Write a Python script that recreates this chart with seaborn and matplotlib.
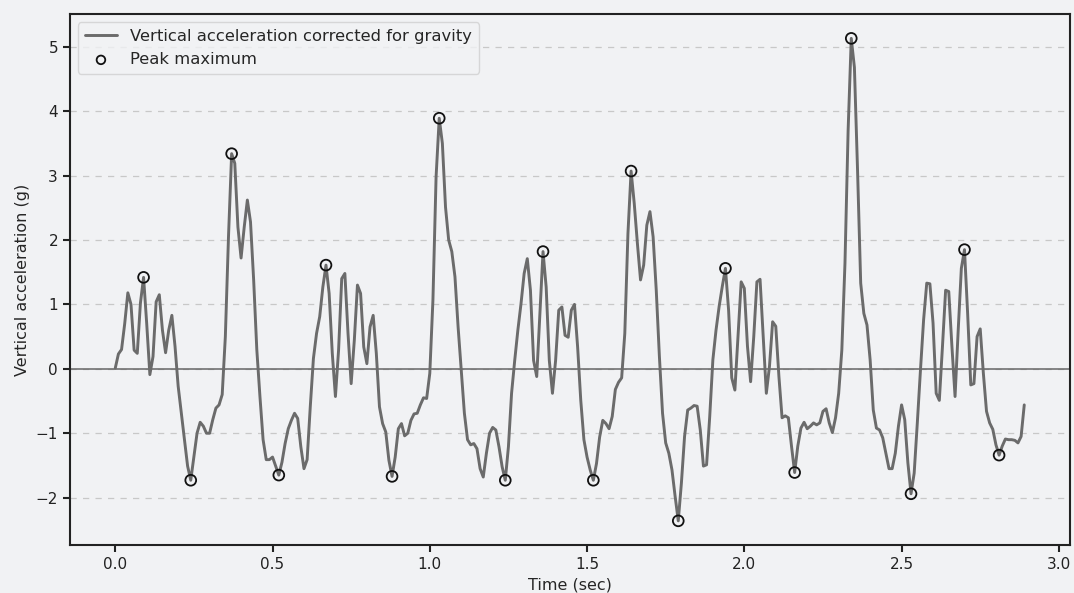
import numpy as np
import pandas as pd
import matplotlib
matplotlib.use("Agg")
import matplotlib.pyplot as plt
import seaborn as sns

time_sec = np.round(np.arange(290) * 0.01, 2)
accel_g = [
    0.01, 0.23, 0.30, 0.70, 1.18, 1.00, 0.29, 0.24, 1.02, 1.42,
    0.70, -0.09, 0.19, 1.04, 1.15, 0.60, 0.25, 0.60, 0.83, 0.35,
    -0.27, -0.69, -1.10, -1.51, -1.73, -1.36, -1.00, -0.83, -0.89, -1.00,
    -1.00, -0.79, -0.61, -0.56, -0.40, 0.50, 2.05, 3.34, 3.19, 2.20,
    1.72, 2.20, 2.62, 2.28, 1.38, 0.30, -0.43, -1.10, -1.41, -1.41,
    -1.37, -1.51, -1.65, -1.45, -1.16, -0.93, -0.80, -0.69, -0.77, -1.21,
    -1.55, -1.41, -0.59, 0.16, 0.55, 0.81, 1.27, 1.61, 1.17, 0.24,
    -0.43, 0.29, 1.40, 1.48, 0.55, -0.23, 0.44, 1.30, 1.17, 0.34,
    0.08, 0.65, 0.83, 0.24, -0.59, -0.85, -0.98, -1.42, -1.67, -1.37,
    -0.93, -0.85, -1.04, -1.00, -0.80, -0.70, -0.69, -0.56, -0.45, -0.46,
    -0.07, 1.07, 2.98, 3.89, 3.50, 2.51, 2.00, 1.82, 1.43, 0.65,
    -0.02, -0.69, -1.10, -1.18, -1.16, -1.24, -1.55, -1.68, -1.31, -1.00,
    -0.91, -0.95, -1.21, -1.52, -1.73, -1.21, -0.38, 0.13, 0.60, 1.01,
    1.48, 1.71, 1.22, 0.13, -0.12, 0.86, 1.82, 1.27, 0.13, -0.38,
    0.13, 0.91, 0.96, 0.52, 0.49, 0.91, 1.00, 0.34, -0.49, -1.10,
    -1.37, -1.57, -1.73, -1.47, -1.06, -0.80, -0.85, -0.93, -0.74, -0.32,
    -0.21, -0.14, 0.55, 2.10, 3.07, 2.57, 1.95, 1.38, 1.61, 2.23,
    2.44, 2.05, 1.22, 0.19, -0.69, -1.15, -1.31, -1.57, -1.98, -2.36,
    -1.77, -1.05, -0.64, -0.61, -0.57, -0.58, -0.95, -1.51, -1.49, -0.74,
    0.14, 0.60, 0.97, 1.28, 1.56, 0.91, -0.14, -0.33, 0.50, 1.35,
    1.25, 0.35, -0.20, 0.50, 1.35, 1.39, 0.50, -0.38, 0.04, 0.73,
    0.66, -0.12, -0.76, -0.73, -0.76, -1.20, -1.61, -1.20, -0.92, -0.83,
    -0.93, -0.89, -0.84, -0.87, -0.84, -0.66, -0.62, -0.84, -0.99, -0.76,
    -0.38, 0.29, 1.64, 3.70, 5.13, 4.68, 3.08, 1.33, 0.86, 0.68,
    0.14, -0.64, -0.92, -0.95, -1.07, -1.31, -1.55, -1.55, -1.31, -0.89,
    -0.56, -0.79, -1.46, -1.94, -1.62, -0.84, -0.02, 0.76, 1.33, 1.32,
    0.71, -0.38, -0.49, 0.35, 1.22, 1.20, 0.35, -0.43, 0.60, 1.56,
    1.85, 0.86, -0.25, -0.23, 0.50, 0.62, -0.07, -0.66, -0.84, -0.94,
    -1.18, -1.34, -1.20, -1.09, -1.10, -1.10, -1.11, -1.15, -1.05, -0.56,
]
peak_idx = [9, 24, 37, 52, 67, 88, 103, 124, 136, 152, 164, 179, 194, 216, 234, 253, 270, 281]

line_label = "Vertical acceleration corrected for gravity"
peak_label = "Peak maximum"
x_label = "Time (sec)"
y_label = "Vertical acceleration (g)"

df = pd.DataFrame({"t": time_sec, "a": accel_g})
peaks = df.iloc[peak_idx]

bg = "#f1f2f4"
sns.set_theme(style="ticks")
plt.rcParams["font.family"] = ["DejaVu Sans"]
plt.rcParams["axes.facecolor"] = bg
plt.rcParams["figure.facecolor"] = bg

fig, ax = plt.subplots(figsize=(10.74, 5.93), dpi=100)
fig.subplots_adjust(left=0.065, right=0.996, top=0.976, bottom=0.081)

ax.axhline(0, color="#666666", lw=1.1, zorder=1)
sns.lineplot(data=df, x="t", y="a", ax=ax, color="#6b6b6b", lw=2.1,
             label=line_label, zorder=2)
sns.scatterplot(data=peaks, x="t", y="a", ax=ax, marker="o", s=60,
                facecolor="none", edgecolor="#111111", linewidth=1.3,
                label=peak_label, zorder=3)

ax.yaxis.grid(True, linestyle=(0, (5, 5)), color="#c8c8c8", lw=0.9)
ax.set_axisbelow(True)
ax.margins(x=0.05, y=0.05)
ax.set_xticks([0.0, 0.5, 1.0, 1.5, 2.0, 2.5, 3.0])
ax.set_yticks([-2, -1, 0, 1, 2, 3, 4, 5])
ax.tick_params(labelsize=11, colors="#222222", length=5, width=1.5)
for s in ax.spines.values():
    s.set_color("#222222")
    s.set_linewidth(1.5)
ax.set_xlabel(x_label, fontsize=11.5, labelpad=4)
ax.set_ylabel(y_label, fontsize=11.5)

leg = ax.legend(loc="upper left", fontsize=11.8, frameon=True, facecolor=bg,
                edgecolor="#d0d0d0", markerscale=0.8)
leg.get_frame().set_linewidth(1.0)

fig.savefig("out.png", dpi=100, facecolor=bg)
